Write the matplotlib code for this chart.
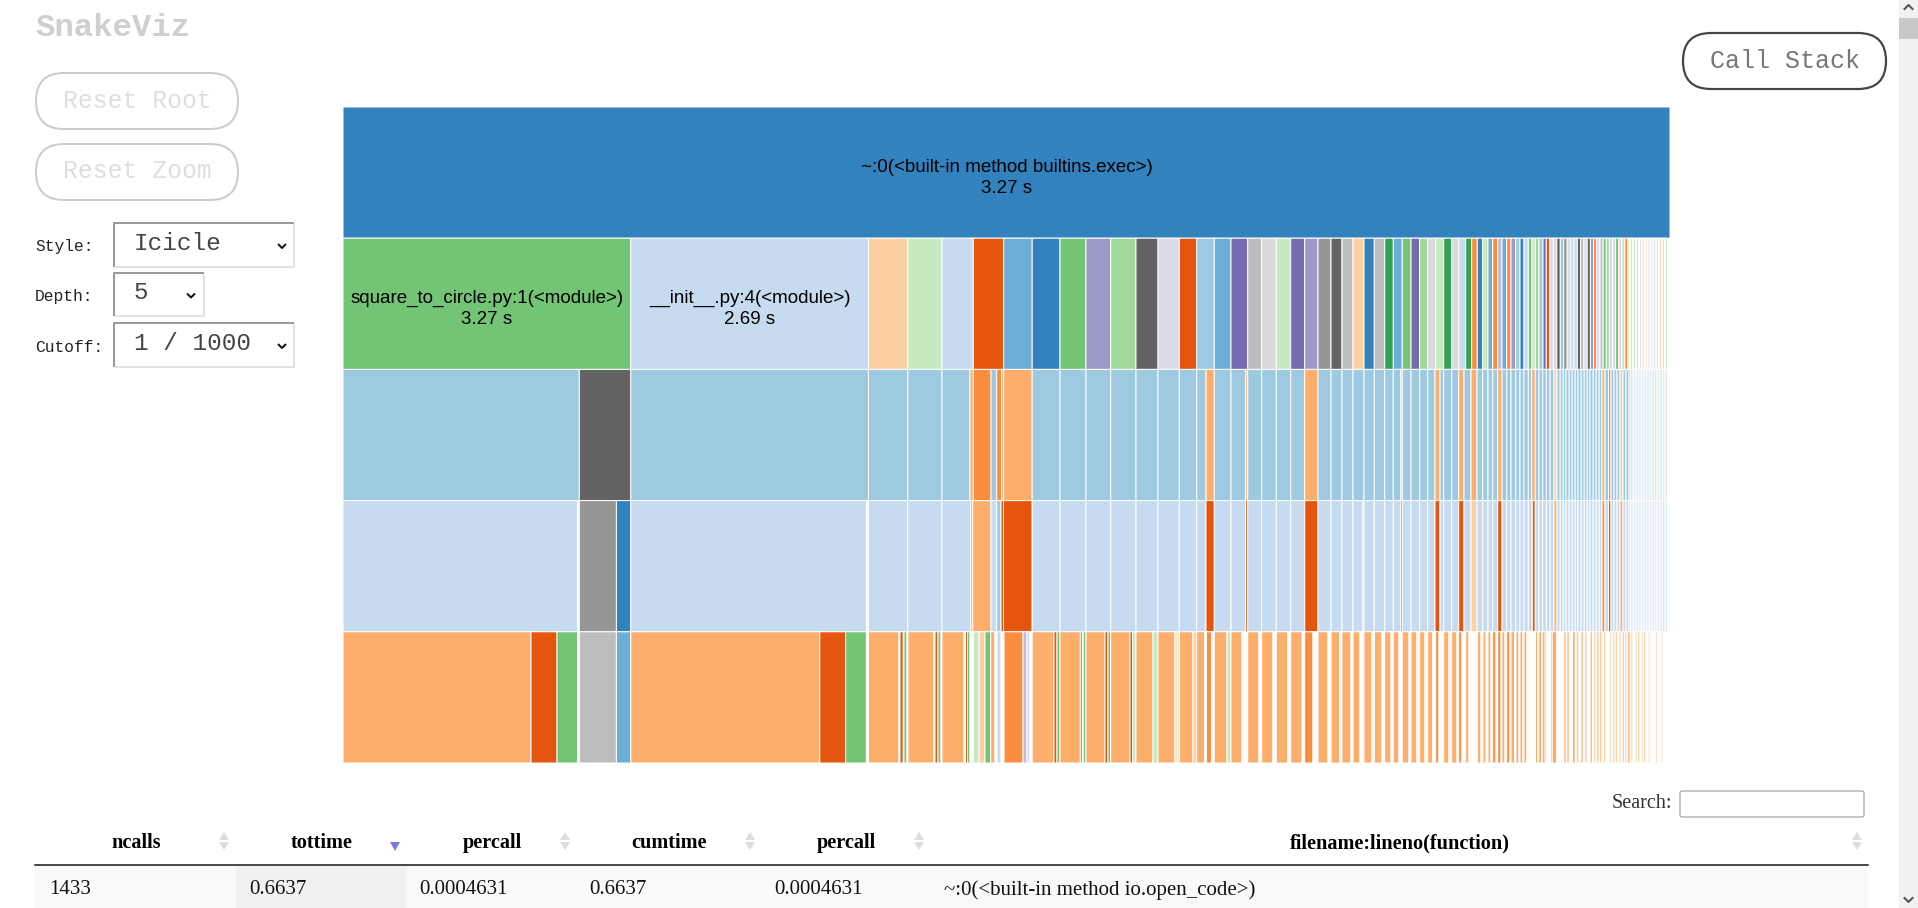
import matplotlib
matplotlib.use("Agg")
import matplotlib.pyplot as plt
import numpy as np
from matplotlib.patches import FancyBboxPatch, Rectangle, Polygon

PALETTE = {
    "b0": "#3182bd", "b1": "#6baed6", "b2": "#9ecae1", "b3": "#c6dbef",
    "o0": "#e6550d", "o1": "#fd8d3c", "o2": "#fdae6b", "o3": "#fdd0a2",
    "g0": "#31a354", "g1": "#74c476", "g2": "#a1d99b", "g3": "#c7e9c0",
    "p0": "#756bb1", "p1": "#9e9ac8", "p2": "#bcbddc", "p3": "#dadaeb",
    "k0": "#636363", "k1": "#969696", "k2": "#bdbdbd", "k3": "#d9d9d9",
    "w": "#ffffff",
}

# ---- icicle values: relative time of each block, level by level ----
level0_widths = [1327]
level0_colors = ["b0"]

level1_widths = [287.8, 237.7, 39.3, 34.2, 31.3, 30.4, 28.5, 27.8, 26, 24.7, 25.3, 22, 21.3, 17.4, 17.6, 16.7, 16.7,
                 14, 14.6, 14.4, 14, 13.3, 13, 11, 11, 11, 10.3, 10.4, 8.6, 9, 8.7, 8.7, 8, 8, 8, 8, 7, 7, 6, 5.6,
                 5.4, 5.3, 4.7, 5, 4.3, 4.7, 4.3, 4.7, 4.3, 4, 4.3, 3.4, 3.6, 3.7, 4, 3.3, 3.4,
                 3.6, 3.5, 3.5, 3.4, 3.5, 3.4, 3.4, 3.3, 3.3, 3.3, 3.3, 3.2, 3.2, 3.2, 3.2, 3.2, 3.1, 3.1, 3.1, 3.1,
                 3.1, 3.1, 3.0, 3.0,
                 1.9, 1.0, 1.9, 1.0, 1.9, 1.0, 1.9, 1.0, 1.9, 1.0, 1.9, 1.0, 1.9, 1.0, 1.9, 1.0,
                 1.9, 1.0, 1.9, 1.0, 1.9, 1.0, 1.9, 1.0, 1.9, 1.0, 1.9]
level1_colors = ("g1 b3 o3 g3 b3 o0 b1 b0 g1 p1 g2 k0 p3 o0 b2 b1 p0 "
                 "k2 k3 g3 p0 p1 k1 k0 k2 o3 b0 k2 g0 b1 g1 p0 g2 k3 g3 g0 k3 b3 g0 o1 "
                 "b0 g3 b1 o1 p2 b1 o1 p1 b2 b0 b3 g1 g3 g2 b2 p0 o0 "
                 "p3 k3 k0 b2 k1 p3 b3 b3 k0 k2 p3 k0 p1 o1 p3 p2 g1 g2 p3 p3 "
                 "g1 k3 k3 o1 "
                 "g3 w o3 w g3 w o3 w k3 w o3 w o3 w k3 w "
                 "p3 w k3 w p3 w o3 w o3 w g3").split()

level2_widths = [236.3, 51.5, 237.7, 39.3, 34.2, 28, 3.3, 17.7, 5.7, 5, 2, 28.5,
                 27.8, 26, 24.7, 25.3, 22, 21.3, 17.4, 9.3, 8.3, 16.7, 14.7, 2,
                 14, 14.6, 14.4, 14, 13.3, 13, 11, 11, 11, 10.3, 10.4, 8.6, 7.4, 1.6,
                 8.7, 8.7, 8, 7.3, 5, 3.7, 8, 7, 5.3, 7, 6,
                 5.7, 5.3, 4.7, 5, 4.3, 4.7, 4.3, 4.7, 4.3, 4, 4.3, 3.4, 3.6,
                 3.7, 3.7, 3.7, 3.7, 3.9, 3,
                 3.2, 3.0, 2.8, 3.2, 3.0, 3.0, 2.8, 3.2, 3.0, 3.0, 2.8, 3.2, 3.0, 3.0, 2.8, 3,
                 3.5, 2.5, 3, 3, 3, 3,
                 3, 3,
                 1.6, 1.6, 1.6, 1.6, 1.6, 1.6, 1.6, 1.6, 1.6, 1.6, 1.6, 1.6,
                 1.6, 1.6, 1.6, 1.6, 1.6, 1.6, 1.6, 1.6, 1.6, 1.6, 1.6, 1.6]
level2_colors = ("b2 k0 b2 b2 b2 b2 o2 o1 b2 o1 o2 o2 "
                 "b2 b2 b2 b2 b2 b2 b2 b2 o2 b2 b2 o2 "
                 "b2 b2 b2 b2 o2 b2 b2 b2 b2 b2 b2 b2 b2 o2 "
                 "b2 b2 b2 b2 o2 b2 b2 b2 o2 b2 o2 "
                 "b2 b2 b2 b2 o2 b2 b2 b2 b2 b2 b2 b2 o2 "
                 "b2 b2 b2 b2 b2 o3 "
                 "b2 b2 b2 b2 b2 b2 b2 b2 b2 b2 b2 b2 b2 b2 b2 o2 "
                 "b2 o1 b2 b2 b2 o3 "
                 "b2 b2 "
                 "b2 b2 b3 b3 b3 b3 b3 b3 b3 b3 b3 b3 "
                 "b2 b3 b2 b3 b2 o3 b3 b2 b3 b3 o3 b3").split()

level3_widths = [234.5, 1.8, 37.1, 14.4, 235.6, 2.1, 39.3, 34.2, 28.7, 2, 18.3, 5.7, 4.3, 2.5, 28.7,
                 27.8, 26, 24.7, 25.3, 22, 21.3, 17.4, 9.3, 8.3, 16.7, 14.7, 2,
                 14, 14.6, 14.4, 14, 13.3, 13, 11, 11, 9.7, 1.3, 10.3, 10.4, 8.6, 7.4, 1.6,
                 8.7, 8.7, 8, 7.3, 5, 3.7, 8, 7, 5.3, 7, 6,
                 5.7, 5.3, 4.7, 5, 4.3, 4.7, 4.3, 4.7, 4.3, 4, 4.3, 4, 3,
                 3.7, 3.7, 3.7, 3.7, 3.9, 3,
                 3.2, 3.0, 2.8, 3.2, 3.0, 3.0, 2.8, 3.2, 3.0, 3.0, 2.8, 3.2, 3.0, 3.0, 2.8, 3,
                 3.5, 2.5, 3, 3, 3, 3,
                 3, 3,
                 1.6, 1.6, 1.6, 1.6, 1.6, 1.6, 1.6, 1.6, 1.6, 1.6, 1.6, 1.6,
                 1.6, 1.6, 1.6, 1.6, 1.6, 1.6, 1.6, 1.6, 1.6, 1.6, 1.6, 1.6]
level3_colors = ("b3 w k1 b0 b3 w b3 b3 b3 o2 o2 b3 b2 o0 o0 "
                 "b3 b3 b3 b3 b3 b3 b3 b3 o0 b3 b3 o0 "
                 "b3 b3 b3 b3 o0 b3 b3 b3 b3 o2 b3 b3 b3 b3 o0 "
                 "b3 b3 b3 b3 o0 b3 b3 b3 o0 b3 o3 "
                 "b3 b3 b3 b3 o0 b3 b3 b3 b3 b3 b3 b3 o0 "
                 "b3 b3 b3 b3 b3 o2 "
                 "b3 b3 b3 b3 b3 b3 b3 b3 b3 b3 b3 b3 b3 b3 b3 o1 "
                 "b3 o0 b3 b3 b3 o2 "
                 "b3 b3 "
                 "b3 b3 b3 b3 b3 b3 b3 b3 b3 b3 b3 b3 "
                 "b3 b3 b3 o3 o3 b3 b3 b3 b3 o2 b3 b3").split()

level4_widths = [188, 26, 20.5, 1.8, 37.1, 14.4, 189, 25.9, 20.7, 2.1,
                 30.5, 1, 3.3, 0.7, 3, 1, 26, 1, 3, 3, 1, 22, 1.5, 2, 2.5, 3.3,
                 5.7, 6, 5.7, 4.3, 2, 4, 3, 19, 4, 3, 2.2,
                 21.8, 3, 3, 20.3, 2, 1, 2.7, 19, 3, 2.7, 19.3, 2.5, 3.5,
                 17, 5, 17, 2.3, 2, 13.7, 3.7, 8, 1.8, 5, 2.8, 12.7, 4, 11, 5.7,
                 11.3, 2.7, 11.3, 3.3, 11.2, 3.2, 11.3, 2.7, 8.3, 5, 10, 3, 8.7, 2.3,
                 9, 2, 7, 4, 8, 2.3, 7.7, 2.7, 6.3, 2.3, 5.7, 3.3, 6.7, 2, 6, 2.7,
                 5.3, 2.7, 5, 3, 3.3, 4.7, 5.3, 2.7, 5.3, 1.7, 3.3, 3.7, 3.3, 8.3,
                 3.7, 2, 3, 2, 3, 1.7, 3.3, 1.7, 3.3, 1, 3, 1.7, 3.3, 1, 3.5, 1.5, 3, 1, 3, 1, 3, 1.3, 2.7, 1,
                 3.5, 2.3, 1, 2.7, 0.7, 3, 1.6, 3.7, 1.7, 4.6, 3.7, 1.5, 1.5, 3, 3, 3, 2.8, 1, 2.8, 1.2, 3.5,
                 0.8, 2.6, 3, 2.2, 1.1, 2.3, 0.5, 2.9, 0.3, 2.7, 1.3, 2.3, 1, 3, 2,
                 1, 2.3, 0.5, 2.3, 0.9, 2.3, 1.1, 2.3, 0.3, 2.2, 4, 2, 2.2, 2, 0.6, 2.2, 1.2, 2, 0.3, 2, 0.7, 2, 2,
                 5.3, 1.8, 3.9, 1.6, 3, 1.5]
level4_colors = ("o2 o0 g1 w k2 b1 o2 o0 g1 w "
                 "o2 w o0 w g1 w o2 w o0 g1 w o2 w o0 g1 w "
                 "g3 o3 g1 o2 w b3 w o1 p2 p3 w "
                 "o2 o0 g1 o2 o0 w g1 o2 o0 g1 o2 o0 g3 "
                 "o2 g3 o2 o3 g3 o2 o3 o2 w o1 w o2 g3 o2 w "
                 "o2 w o2 w o2 w o2 w o1 w o2 w o2 w "
                 "o2 w o2 w o2 w o2 w o2 w o2 w o2 w o2 w "
                 "o2 w o2 w o1 w o2 w o2 w o1 w o2 w "
                 "o2 w o2 w o2 w o1 w o1 w o2 w o1 w o2 w o2 w o2 w o2 w "
                 "w o2 w o2 w o2 w o2 o2 w o2 o2 w o3 w o3 o3 w o2 w o3 "
                 "w o3 w o3 w o2 w o3 w o3 w o3 w o3 o3 "
                 "w o3 w o3 w o3 w o3 w o3 w o3 o3 o3 w o3 w o3 w o3 w o3 o3 "
                 "w o3 w o3 w o3").split()

LEVELS = [(level0_widths, level0_colors), (level1_widths, level1_colors), (level2_widths, level2_colors),
          (level3_widths, level3_colors), (level4_widths, level4_colors)]

node_labels = {(0, 0): "~:0(<built-in method builtins.exec>)\n3.27 s",
               (1, 0): "square_to_circle.py:1(<module>)\n3.27 s",
               (1, 1): "__init__.py:4(<module>)\n2.69 s"}

# ---- table content ----
table_headers = ["ncalls", "tottime", "percall", "cumtime", "percall", "filename:lineno(function)"]
table_row = ["1433", "0.6637", "0.0004631", "0.6637", "0.0004631", "~:0(<built-in method io.open_code>)"]

W, H = 1918, 908
fig = plt.figure(figsize=(W / 100, H / 100), dpi=100, facecolor="white")

# icicle axes
ax = fig.add_axes([343 / W, (H - 763) / H, 1327 / W, 656 / H])
ax.set_xlim(0, sum(level0_widths))
ax.set_ylim(5, 0)
ax.axis("off")
PX = 0.72
for depth, (widths, codes) in enumerate(LEVELS):
    widths = np.asarray(widths, float)
    n = min(len(widths), len(codes))
    if len(widths) != len(codes):
        print("length mismatch", depth, len(widths), len(codes))
    widths = widths[:n]
    lefts = np.concatenate([[0], np.cumsum(widths)[:-1]])
    print(depth, lefts[-1] + widths[-1])
    bars = ax.barh(np.full(n, depth + 0.5), widths, left=lefts, height=1,
                   color=[PALETTE[c] for c in codes[:n]], edgecolor="white", linewidth=1.0 * PX)
    for b in bars:
        b.set_snap(False)
    for (d, i), label in node_labels.items():
        if d == depth:
            ax.text(lefts[i] + widths[i] / 2, depth + 0.538, label, ha="center", va="center",
                    family="Liberation Sans", fontsize=13.5, color="black", linespacing=1.3)

# page furniture, in page pixels
ui = fig.add_axes([0, 0, 1, 1], zorder=5)
ui.set_xlim(0, W)
ui.set_ylim(H, 0)
ui.axis("off")
ui.patch.set_alpha(0)
MONO = "Liberation Mono"
SERIF = "Liberation Serif"


def pill(x0, y0, x1, y1, edge, lw, text, tcolor, size):
    r = (y1 - y0) / 2
    ui.add_patch(FancyBboxPatch((x0 + r, y0 + r), x1 - x0 - 2 * r, 0.01,
                                boxstyle=f"round,pad={r},rounding_size={r}", fc="white", ec=edge, lw=lw * PX))
    ui.text((x0 + x1) / 2, (y0 + y1) / 2 - 0.5, text, family=MONO, fontsize=size, color=tcolor, ha="center", va="center")


def select(x0, y0, x1, y1, text, label, ly, cx):
    ui.add_patch(Rectangle((x0, y0), x1 - x0, y1 - y0, fc="white", ec="none"))
    ui.plot([x0 + 1, x0 + 1, x1 - 1], [y1 - 1, y0 + 1, y0 + 1], color="#9a9a9a", lw=2 * PX, solid_capstyle="butt")
    ui.plot([x0 + 2, x1 - 1, x1 - 1], [y1 - 1, y1 - 1, y0 + 2], color="#e2e2e2", lw=2 * PX, solid_capstyle="butt")
    ui.text(x0 + 21, (y0 + y1) / 2 - 2, text, family=MONO, fontsize=17.6, color="#444444", ha="left", va="center")
    ui.text(35, ly, label, family=MONO, fontsize=11.7, color="#222222", ha="left", va="center")
    cy = (y0 + y1) / 2 + 1
    ui.plot([cx - 4, cx, cx + 4], [cy - 2, cy + 2, cy - 2], color="#111111", lw=2 * PX, solid_capstyle="butt")


ui.text(35.5, 28, "SnakeViz", family=MONO, weight="bold", fontsize=23.3, color="#cfcfcf", ha="left", va="center")
pill(36, 73, 238, 129, "#cccccc", 2, "Reset Root", "#dedede", 17.8)
pill(36, 144, 238, 200, "#cccccc", 2, "Reset Zoom", "#dedede", 17.8)
pill(1683, 33, 1886, 89, "#444444", 2.2, "Call Stack", "#777777", 18)
select(113, 222, 295, 268, "Icicle", "Style:", 247, 282)
select(113, 272, 205, 317, "5", "Depth:", 297, 191)
select(113, 322, 295, 368, "1 / 1000", "Cutoff:", 347, 282)

# scrollbar
ui.add_patch(Rectangle((1899, 0), 19, H, fc="#f1f1f1", ec="none"))
ui.add_patch(Rectangle((1899, 18), 19, 21, fc="#c8c8c8", ec="none"))
ui.plot([1904.5, 1908.5, 1912.5], [9, 5, 9], color="#505050", lw=2 * PX)
ui.plot([1904.5, 1908.5, 1912.5], [898, 902, 898], color="#505050", lw=2 * PX)

# table
ui.add_patch(Rectangle((35, 866), 1833, 42, fc="#f9f9f9", ec="none"))
ui.add_patch(Rectangle((236, 866), 170, 42, fc="#f1f1f1", ec="none"))
ui.plot([35, 1868], [865, 865], color="#111111", lw=1.5 * PX)
header_x = [136, 321.5, 492, 669, 846, 1400]
icon_x = [224, None, 565, 750, 919, 1857]
cell_x = [49, 249, 419, 589, 774, 944]
for h, hx, ix, t, cx in zip(table_headers, header_x, icon_x, table_row, cell_x):
    ui.text(hx, 843, h, family=SERIF, weight="bold", fontsize=14.6, color="black", ha="center", va="center")
    ui.text(cx, 890, t, family=SERIF, fontsize=15, color="#111111", ha="left", va="center")
    if ix is not None:
        ui.add_patch(Polygon([[ix - 5, 840], [ix + 5, 840], [ix, 832]], fc="#dddddd", ec="none"))
        ui.add_patch(Polygon([[ix - 5, 842], [ix + 5, 842], [ix, 850]], fc="#dddddd", ec="none"))
ui.add_patch(Polygon([[390, 842], [400, 842], [395, 851]], fc="#7b7bdc", ec="none"))

ui.text(1612, 804, "Search:", family=SERIF, fontsize=14.5, color="#333333", ha="left", va="center")
ui.add_patch(FancyBboxPatch((1682, 793), 180, 22, boxstyle="round,pad=2,rounding_size=2", fc="white", ec="#8f8f9d", lw=1 * PX))

fig.savefig("out.png", dpi=100, facecolor="white")
